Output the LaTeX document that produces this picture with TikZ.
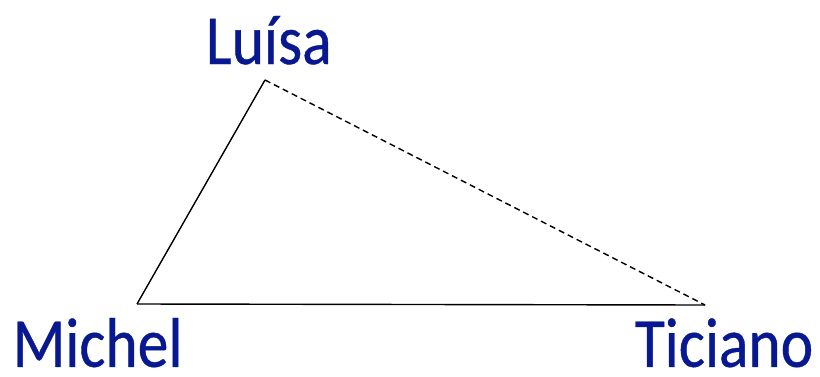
\documentclass[tikz,border=0pt]{standalone}
\usepackage{fontspec}
\newfontfamily\namefont[FakeStretch=0.875,FakeBold=0.6]{Carlito}
\definecolor{namecolor}{RGB}{8,24,145}
\begin{document}
\begin{tikzpicture}[every node/.style={font=\namefont\fontsize{50}{56}\selectfont},
  personname/.style={text=namecolor, anchor=base, inner sep=0pt, text depth=0pt},
  side/.style={line width=1pt, black}]
\useasboundingbox (0,0) rectangle (20.5,9.4);
\coordinate (luisa) at (6.625,7.4);
\coordinate (michel) at (3.425,1.8);
\coordinate (ticiano) at (17.625,1.775);
\node[personname] (luisaname) at (6.72,7.8) {Luísa};
\node[personname] (michelname) at (2.44,0.23) {Michel};
\node[personname] (ticianoname) at (18.1,0.23) {Ticiano};
\draw[side] (michel) -- (luisa);
\draw[side] (michel) -- (ticiano);
\draw[side, dash pattern=on 0.15cm off 0.1cm] (luisa) -- (ticiano);
\end{tikzpicture}
\end{document}
